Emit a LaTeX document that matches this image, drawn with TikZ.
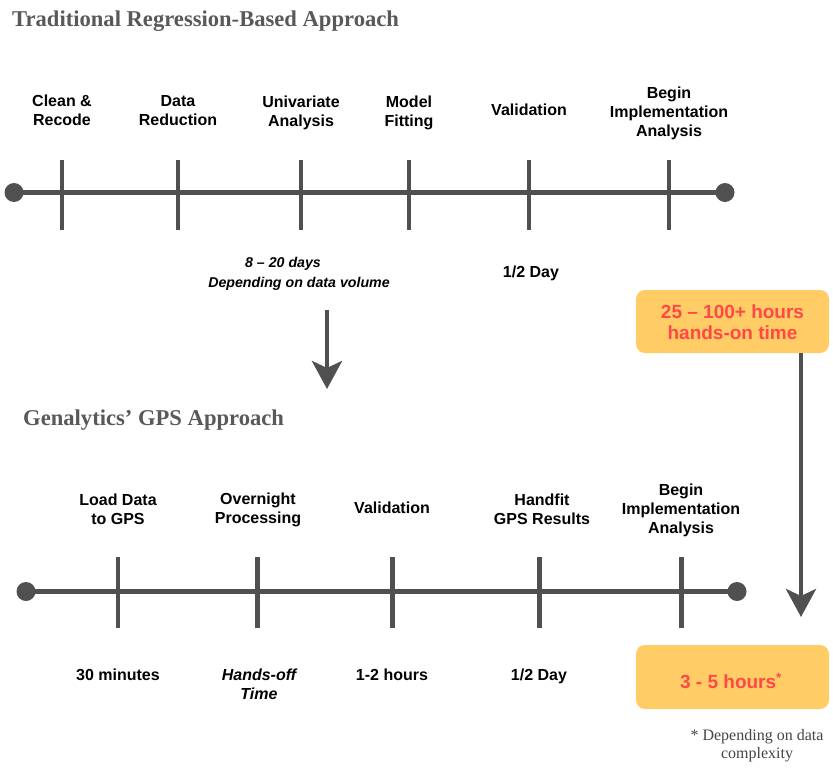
\documentclass[tikz,border=0pt]{standalone}
\usepackage{fontspec}
\setmainfont{Liberation Serif}
\setsansfont{Liberation Sans}
\usetikzlibrary{arrows.meta}
\definecolor{linegray}{HTML}{505050}
\definecolor{titlegray}{HTML}{595959}
\definecolor{boxfill}{HTML}{FFCC66}
\definecolor{boxtext}{HTML}{FF4848}
\definecolor{notegray}{HTML}{444444}
\tikzset{
  lbl/.style={font=\sffamily\bfseries\fontsize{16}{19}\selectfont, align=center, inner sep=0pt, text=black},
  ilbl/.style={lbl, font=\sffamily\bfseries\itshape\fontsize{16}{19}\selectfont},
  slbl/.style={lbl, font=\sffamily\bfseries\itshape\fontsize{14.2}{20}\selectfont},
  ttl/.style={font=\rmfamily\bfseries\fontsize{22.6}{26}\selectfont, text=titlegray, anchor=west, inner sep=0pt},
  axisline/.style={draw=linegray, line width=5pt},
  tickline/.style={draw=linegray, line width=4.5pt},
  enddot/.style={circle, fill=linegray, minimum size=19pt, inner sep=0pt},
  bigarrow/.style={draw=linegray, line width=4.5pt, -{Stealth[width=30pt,length=28pt,inset=7pt]}},
  hbox/.style={fill=boxfill, rounded corners=9pt, minimum width=193pt, inner sep=0pt},
  hboxtext/.style={font=\sffamily\bfseries\fontsize{19}{21}\selectfont, text=boxtext, align=center, inner sep=0pt},
  note/.style={font=\rmfamily\fontsize{16}{18}\selectfont, text=notegray, align=center, inner sep=0pt}
}
\begin{document}
\begin{tikzpicture}[x=1pt,y=-1pt]
\useasboundingbox (0,0) rectangle (833,771);

% Titles
\node[ttl] (title1) at (12,21) {Traditional Regression-Based Approach};
\node[ttl] (title2) at (23,420) {Genalytics’ GPS Approach};

% ---------- Top timeline ----------
\node[enddot] (ta) at (14,192.5) {};
\node[enddot] (tb) at (725,192.5) {};
\draw[axisline] (ta.center) -- (tb.center);
\foreach \n/\x in {1/62,2/178,3/301,4/409,5/529,6/669}{
  \coordinate (tt\n) at (\x,160);
  \coordinate (tbm\n) at (\x,230);
  \draw[tickline] (tt\n) -- (tbm\n);
}
\node[lbl] (u1) at (62,110.5) {Clean \&\\Recode};
\node[lbl] (u2) at (178,110.5) {Data\\Reduction};
\node[lbl] (u3) at (301,113) {Univariate\\Analysis};
\node[lbl] (u4) at (409,113) {Model\\Fitting};
\node[lbl] (u5) at (529,110) {Validation};
\node[lbl] (u6) at (669,113) {Begin\\Implementation\\Analysis};
\node[slbl] (d1) at (299,274) {8 – 20 days\hspace*{32pt}\\Depending on data volume};
\node[lbl] (d2) at (531,273) {1/2 Day};

% down arrow between sections
\coordinate (ar1s) at (327,310);
\coordinate (ar1e) at (327,389);
\draw[bigarrow] (ar1s) -- (ar1e);

% ---------- Box 1 ----------
\node[hbox, minimum height=63pt] (box1) at (732.5,321.5) {};
\node[hboxtext] (box1t) at (732.5,322.5) {25 – 100+ hours\\hands-on time};

% arrow from box 1 to box 2
\coordinate (ar2e) at (801,617);
\draw[bigarrow] ([xshift=68.5pt]box1.south) -- (ar2e);

% ---------- Bottom timeline ----------
\node[enddot] (ba) at (26,591.5) {};
\node[enddot] (bb) at (737,591.5) {};
\draw[axisline] (ba.center) -- (bb.center);
\foreach \n/\x in {1/118,2/257.5,3/392.5,4/539.5,5/681.5}{
  \coordinate (bt\n) at (\x,557);
  \coordinate (bbm\n) at (\x,628);
  \draw[tickline] (bt\n) -- (bbm\n);
}
\node[lbl] (l1) at (118,509.5) {Load Data\\to GPS};
\node[lbl] (l2) at (258,509.5) {Overnight\\Processing};
\node[lbl] (l3) at (392,508) {Validation};
\node[lbl] (l4) at (542,509.5) {Handfit\\GPS Results};
\node[lbl] (l5) at (681,510) {Begin\\Implementation\\Analysis};
\node[lbl] (m1) at (118,674.5) {30 minutes};
\node[ilbl] (m2) at (259,684) {Hands-off\\Time};
\node[lbl] (m3) at (392,675) {1-2 hours};
\node[lbl] (m4) at (539,676) {1/2 Day};

% ---------- Box 2 ----------
\node[hbox, minimum height=64pt] (box2) at (732.5,677) {};
\node[hboxtext] (box2t) at (731,681) {3 - 5 hours\textsuperscript{*}};

% footnote
\node[note] (fn) at (757,746) {* Depending on data\\complexity};
\end{tikzpicture}
\end{document}
